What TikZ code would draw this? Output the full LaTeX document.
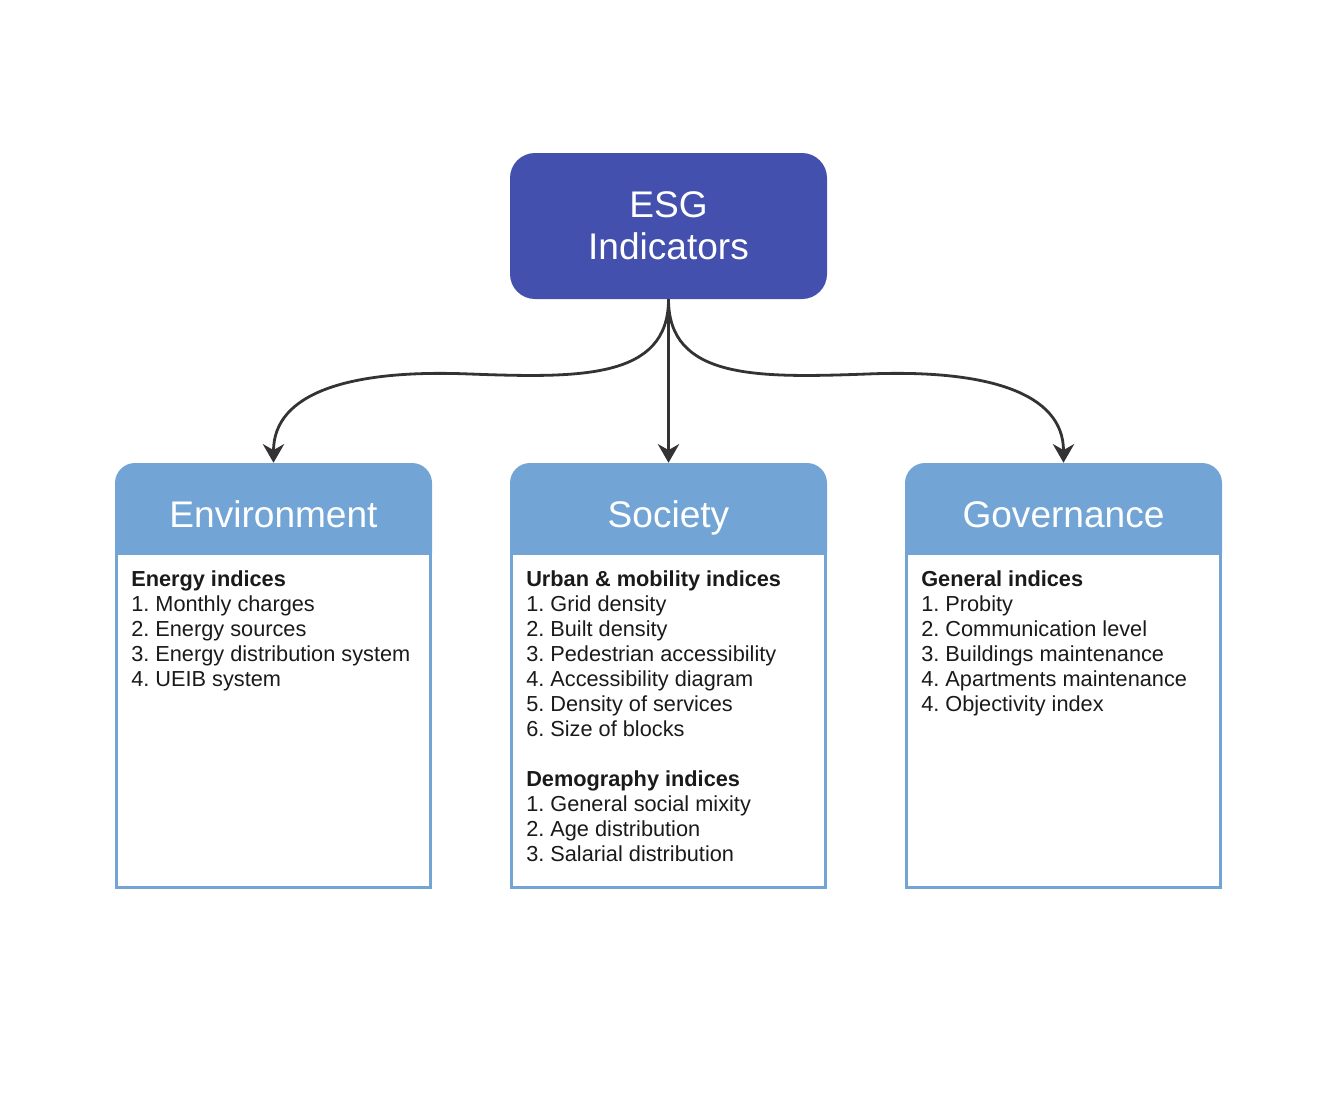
\documentclass[tikz,border=0pt]{standalone}
\usepackage{fontspec}
\setmainfont{Liberation Sans}
\usepackage{tikz}
\usetikzlibrary{arrows.meta,positioning}
\definecolor{esgblue}{HTML}{4450AD}
\definecolor{hdrblue}{HTML}{72A5D5}
\definecolor{arrgray}{HTML}{333333}
\definecolor{txtgray}{HTML}{1A1A1A}
\frenchspacing
\tikzset{
  topbox/.style={fill=esgblue, text=white, rounded corners=18.75pt, inner sep=0pt,
    minimum width=237.75pt, minimum height=109.5pt, align=center,
    font=\fontsize{27.8}{31.5}\selectfont},
  hdrbox/.style={fill=hdrblue, text=white, rounded corners=15pt, inner sep=0pt,
    minimum width=237.75pt, minimum height=82.5pt, text height=20pt, text depth=6pt,
    font=\fontsize{27.8}{31.5}\selectfont},
  bodybox/.style={draw=hdrblue, fill=white, line width=2.25pt, inner sep=0pt,
    minimum width=235.5pt, minimum height=250.5pt},
  listtext/.style={anchor=north west, inner sep=0pt, align=left, text=txtgray,
    font=\fontsize{16.3}{18.75}\selectfont},
  arr/.style={draw=arrgray, line width=2.1pt, -{Stealth[length=14pt,width=16pt,inset=4.5pt]}}
}
\begin{document}
\begin{tikzpicture}[x=0.75pt, y=-0.75pt]
		\useasboundingbox (0,0) rectangle (1334,1108);
		\node[topbox] (esg) at (668.5,226) {ESG\\Indicators};
		% headers
		\node[hdrbox] (envhd) at (273.5,518) {Environment};
		\node[hdrbox] (sochd) at (668.5,518) {Society};
		\node[hdrbox] (govhd) at (1063.5,518) {Governance};
		% bodies
		\node[bodybox] (envbody) at (273.5,720) {};
		\node[bodybox] (socbody) at (668.5,720) {};
		\node[bodybox] (govbody) at (1063.5,720) {};
		\node[listtext] (envlist) at (131,570) {\textbf{Energy indices}\\1. Monthly charges\\2. Energy sources\\3. Energy distribution system\\4. UEIB system};
		\node[listtext] (soclist) at (526,570) {\textbf{Urban \& mobility indices}\\1. Grid density\\2. Built density\\3. Pedestrian accessibility\\4. Accessibility diagram\\5. Density of services\\6. Size of blocks\\[18.75pt]\textbf{Demography indices}\\1. General social mixity\\2. Age distribution\\3. Salarial distribution};
		\node[listtext] (govlist) at (921,570) {\textbf{General indices}\\1. Probity\\2. Communication level\\3. Buildings maintenance\\4. Apartments maintenance\\4. Objectivity index};
		% connectors
		\coordinate (lmid) at (470,374);
		\coordinate (rmid) at (867,374);
		\draw[arr] (esg.south) .. controls +(0,80) and +(110,4) .. (lmid) .. controls +(-120,-5) and +(0,-70) .. (envhd.north);
		\draw[arr] (esg.south) -- (sochd.north);
		\draw[arr] (esg.south) .. controls +(0,80) and +(-110,4) .. (rmid) .. controls +(120,-5) and +(0,-70) .. (govhd.north);
	\end{tikzpicture}
\end{document}
